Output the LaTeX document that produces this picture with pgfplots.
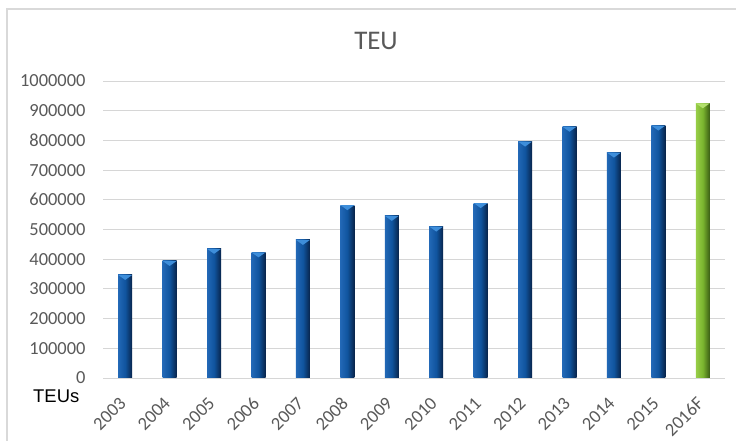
\documentclass[border=0pt]{standalone}
\usepackage{pgfplots}
\pgfplotsset{compat=1.18}
\usepackage{fontspec}
\setmainfont{Carlito}
\newfontfamily\arialf{Liberation Sans}
\definecolor{blueL}{RGB}{34,104,182}
\definecolor{blueM}{RGB}{16,84,158}
\definecolor{blueD}{RGB}{8,36,74}
\definecolor{blueT}{RGB}{62,142,218}
\definecolor{greenL}{RGB}{152,206,72}
\definecolor{greenM}{RGB}{122,180,46}
\definecolor{greenD}{RGB}{58,92,20}
\definecolor{greenT}{RGB}{178,224,108}
\definecolor{txtgray}{RGB}{89,89,89}
\pgfdeclareplotmark{bevel}{%
  \pgfpathmoveto{\pgfqpoint{-7bp}{0bp}}%
  \pgfpathlineto{\pgfqpoint{7bp}{0bp}}%
  \pgfpathlineto{\pgfqpoint{0bp}{-5bp}}%
  \pgfpathclose\pgfusepathqfill}
\pgfplotsset{
  bluebar/.style={ybar, bar width=14bp, bar shift=0pt, draw=none, left color=blueL, right color=blueD, middle color=blueM, forget plot},
  greenbar/.style={ybar, bar width=14bp, bar shift=0pt, draw=none, left color=greenL, right color=greenD, middle color=greenM, forget plot},
}
\pgfplotstableread{
x y
0 347000
1 394000
2 435000
3 423000
4 465000
5 582000
6 546000
7 510000
8 589000
9 796000
10 846000
11 759000
12 850000
}\bluedata
\pgfplotstableread{
x y
13 925000
}\greendata
\begin{document}
\begin{tikzpicture}
\useasboundingbox (0bp,0bp) rectangle (736bp,441bp);
\fill[white] (0bp,0bp) rectangle (736bp,441bp);
\draw[black!15, line width=1.5bp] (7bp,0bp) -- (7bp,432bp) -- (736bp,432bp);
\begin{axis}[
  at={(103bp,63bp)}, anchor=south west,
  scale only axis, width=622bp, height=297bp,
  xmin=-0.5, xmax=13.5, ymin=0, ymax=1000000,
  xtick={0,...,13},
  xticklabels={2003,2004,2005,2006,2007,2008,2009,2010,2011,2012,2013,2014,2015,2016F},
  ytick={0,100000,...,1000000},
  scaled y ticks=false,
  /pgf/number format/fixed,
  /pgf/number format/1000 sep={},
  /pgf/number format/assume math mode=true,
  ymajorgrids, grid style={black!16, line width=0.8bp},
  axis line style={draw=none},
  tick style={draw=none},
  yticklabel style={font=\fontsize{18.5}{20}\selectfont, text=txtgray, xshift=-14bp},
  xticklabel style={font=\fontsize{18.5}{20}\selectfont, text=txtgray, xshift=0bp, yshift=-20bp, rotate=45, anchor=east},
  clip=false,
]
\addplot[bluebar] coordinates {(0,347000)};
\addplot[bluebar] coordinates {(1,394000)};
\addplot[bluebar] coordinates {(2,435000)};
\addplot[bluebar] coordinates {(3,423000)};
\addplot[bluebar] coordinates {(4,465000)};
\addplot[bluebar] coordinates {(5,582000)};
\addplot[bluebar] coordinates {(6,546000)};
\addplot[bluebar] coordinates {(7,510000)};
\addplot[bluebar] coordinates {(8,589000)};
\addplot[bluebar] coordinates {(9,796000)};
\addplot[bluebar] coordinates {(10,846000)};
\addplot[bluebar] coordinates {(11,759000)};
\addplot[bluebar] coordinates {(12,850000)};
\addplot[greenbar] coordinates {(13,925000)};
\addplot[only marks, mark=bevel, color=blueT] table[x=x,y=y] {\bluedata};
\addplot[only marks, mark=bevel, color=greenT] table[x=x,y=y] {\greendata};
\end{axis}
\node[text=txtgray, font=\fontsize{27}{30}\selectfont] at (376bp,400bp) {TEU};
\node[anchor=base west, inner sep=0pt, font=\arialf\fontsize{18.5}{20}\selectfont] at (33bp,39bp) {TEUs};
\end{tikzpicture}
\end{document}
